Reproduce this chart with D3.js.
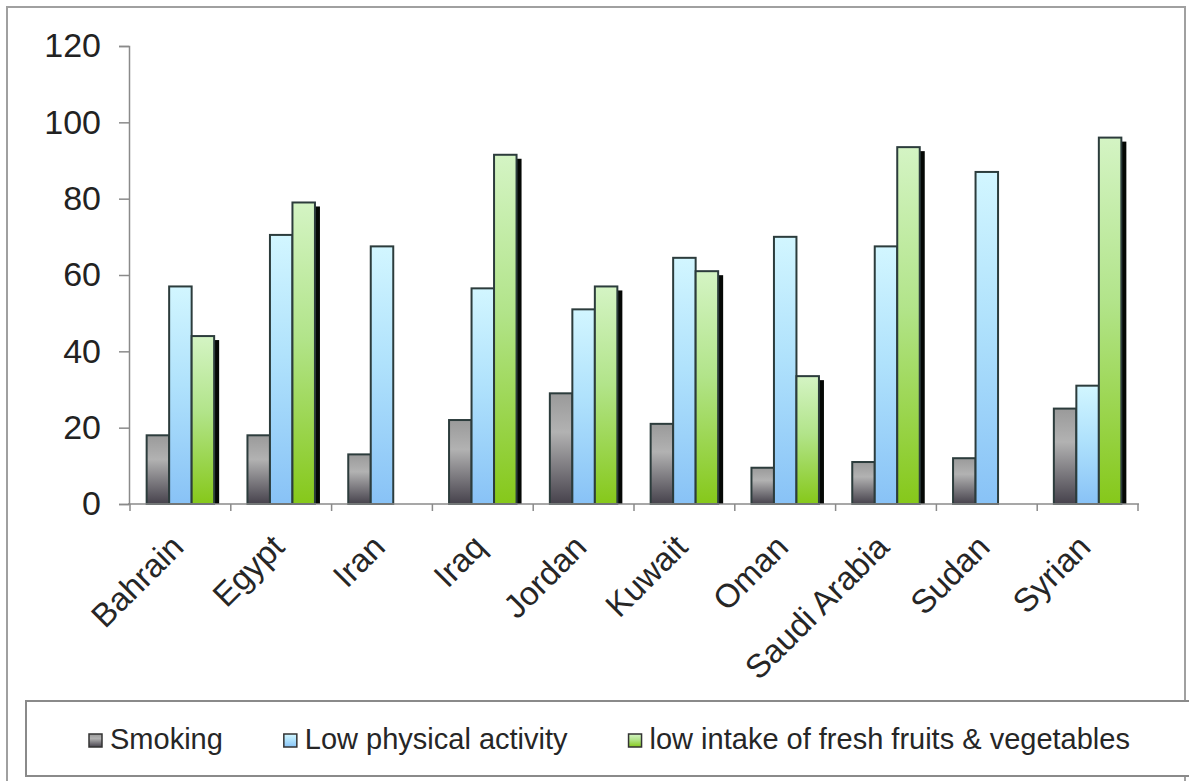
<!DOCTYPE html>
<html>
<head>
<meta charset="utf-8">
<script src="https://cdn.jsdelivr.net/npm/d3@7"></script>
<style>
  body { margin: 0; background: #fff; }
  svg { display: block; font-family: Arial, "Liberation Sans", sans-serif; }
</style>
</head>
<body>
<svg id="chart" width="1189" height="781"></svg>
<script>
const countries = ["Bahrain", "Egypt", "Iran", "Iraq", "Jordan", "Kuwait", "Oman", "Saudi Arabia", "Sudan", "Syrian"];
const seriesNames = ["Smoking", "Low physical activity", "low intake of fresh fruits & vegetables"];
const smoking = [18, 18, 13, 22, 29, 21, 9.5, 11, 12, 25];
const lowActivity = [57, 70.5, 67.5, 56.5, 51, 64.5, 70, 67.5, 87, 31];
const lowFruitVeg = [44, 79, 0, 91.5, 57, 61, 33.5, 93.5, 0, 96];
const yTicks = [0, 20, 40, 60, 80, 100, 120];

const seriesValues = [smoking, lowActivity, lowFruitVeg];
const data = countries.map((c, i) => ({
  country: c,
  values: seriesNames.map((s, j) => ({ key: s, idx: j, value: seriesValues[j][i] }))
}));

const svg = d3.select("#chart");

// outer frame
svg.append("rect")
  .attr("x", 7).attr("y", 7).attr("width", 1178).attr("height", 790)
  .attr("fill", "#fff").attr("stroke", "#a0a0a0").attr("stroke-width", 2);

// gradients
const defs = svg.append("defs");
const grads = [
  [["0%", "#9a9a9a"], ["35%", "#b2b2b2"], ["100%", "#46424c"]],
  [["0%", "#d2f6ff"], ["45%", "#b0e2fc"], ["100%", "#88c2f6"]],
  [["0%", "#d4f4c4"], ["45%", "#b2e48a"], ["100%", "#86c81a"]]
];
grads.forEach((stops, i) => {
  const g = defs.append("linearGradient").attr("id", "g" + i)
    .attr("x1", 0).attr("y1", 0).attr("x2", 0).attr("y2", 1);
  stops.forEach(s => g.append("stop").attr("offset", s[0]).attr("stop-color", s[1]));
});

const x0 = d3.scaleBand().domain(countries).range([130, 1138]).padding(0);
const x1 = d3.scaleBand().domain(seriesNames).range([0, x0.bandwidth()])
  .paddingInner(0).paddingOuter(0.74);
const y = d3.scaleLinear().domain([0, 120]).range([504, 46]);

// y axis
const yAxis = svg.append("g")
  .attr("transform", "translate(129,0)")
  .call(d3.axisLeft(y).tickValues(yTicks).tickSize(10).tickPadding(18));
yAxis.select(".domain").attr("stroke", "#8a8a8a").attr("stroke-width", 1.5);
yAxis.selectAll(".tick line").attr("stroke", "#8a8a8a").attr("stroke-width", 1.5);
yAxis.selectAll("text").attr("font-size", 34).attr("fill", "#222")
  .attr("font-family", "Arial, 'Liberation Sans', sans-serif");

// bars
const groups = svg.append("g").selectAll("g")
  .data(data).enter().append("g")
  .attr("transform", d => `translate(${x0(d.country)},0)`);

groups.selectAll(".shadow")
  .data(d => d.values.filter(v => v.idx === 2 && v.value > 0))
  .enter().append("rect")
  .attr("class", "shadow")
  .attr("x", d => x1(d.key) + 5)
  .attr("y", d => y(d.value) + 4)
  .attr("width", x1.bandwidth())
  .attr("height", d => y(0) - y(d.value) - 4)
  .attr("fill", "#050805");

groups.selectAll(".bar")
  .data(d => d.values.filter(v => v.value > 0))
  .enter().append("rect")
  .attr("class", "bar")
  .attr("x", d => x1(d.key))
  .attr("y", d => y(d.value))
  .attr("width", x1.bandwidth())
  .attr("height", d => y(0) - y(d.value))
  .attr("fill", d => `url(#g${d.idx})`)
  .attr("stroke", "#2c3c3c")
  .attr("stroke-width", 2);

// x axis line and boundary ticks
const xAxis = svg.append("g")
  .attr("transform", "translate(0,504)")
  .call(d3.axisBottom(x0).tickSize(0).tickPadding(0));
xAxis.select(".domain").attr("stroke", "#8a8a8a").attr("stroke-width", 1.5)
  .attr("d", "M128,0H1139");
xAxis.selectAll(".tick text")
  .attr("font-size", 33).attr("fill", "#262626")
  .attr("font-family", "Arial, 'Liberation Sans', sans-serif")
  .attr("text-anchor", "end")
  .attr("dy", 0).attr("y", 0)
  .attr("transform", "translate(5,45) rotate(-45)");

xAxis.selectAll(".bound")
  .data(countries.map(c => x0(c)).concat([x0.range()[1]]))
  .enter().append("line")
  .attr("class", "bound")
  .attr("x1", d => d).attr("x2", d => d)
  .attr("y1", 0).attr("y2", 7)
  .attr("stroke", "#8a8a8a").attr("stroke-width", 1.5);

// legend
svg.append("rect")
  .attr("x", 26).attr("y", 701).attr("width", 1180).attr("height", 75)
  .attr("fill", "#fff").attr("stroke", "#8a8a8a").attr("stroke-width", 2);

const legend = svg.append("g");
let lx = 89;
seriesNames.forEach((s, i) => {
  const item = legend.append("g");
  item.append("rect")
    .attr("x", lx).attr("y", 734).attr("width", 13).attr("height", 13)
    .attr("fill", `url(#g${i})`).attr("stroke", "#333").attr("stroke-width", 1.5);
  const t = item.append("text")
    .attr("x", lx + 21).attr("y", 749)
    .attr("font-size", 29).attr("fill", "#262626")
    .text(s);
  lx = lx + 21 + t.node().getComputedTextLength() + 61;
});
</script>
</body>
</html>
